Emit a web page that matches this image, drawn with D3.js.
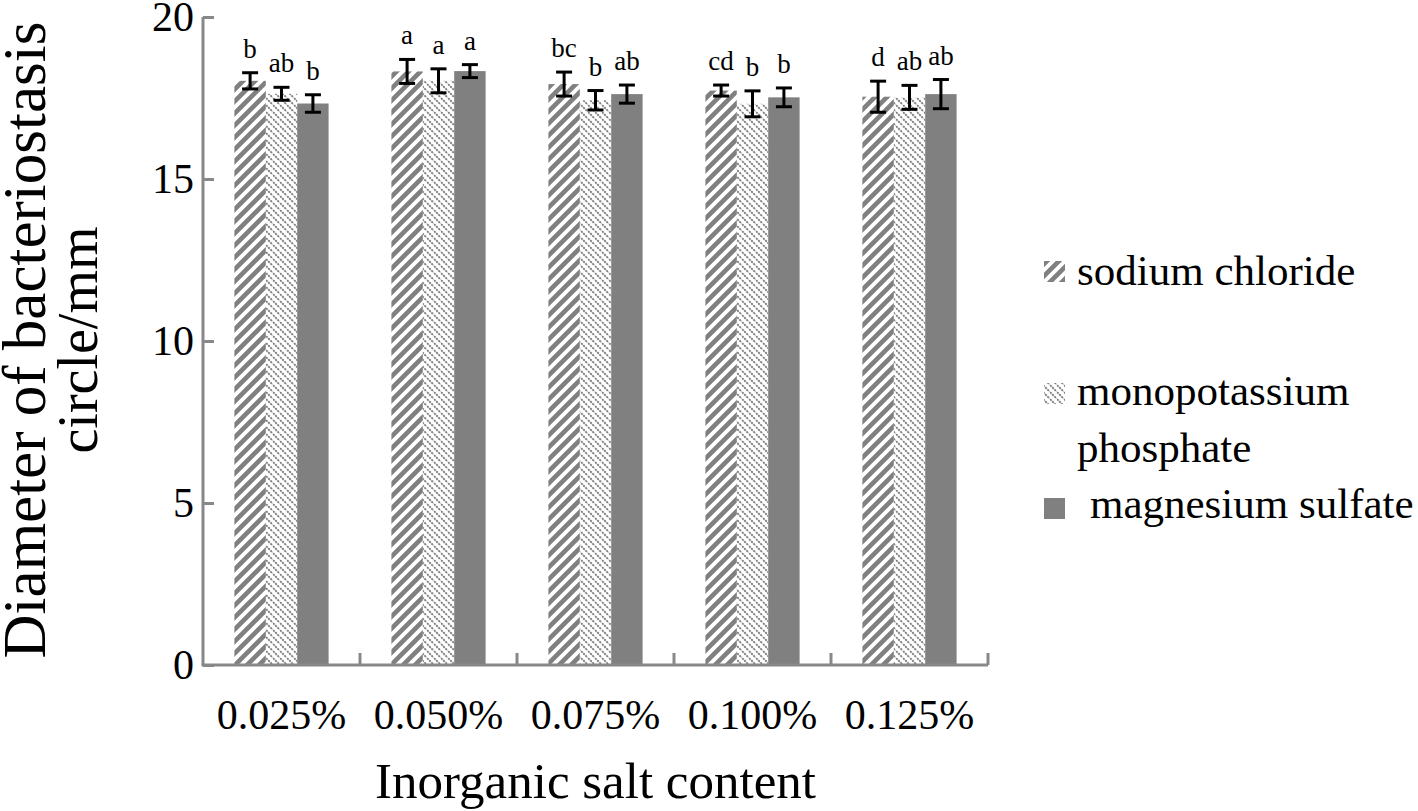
<!DOCTYPE html>
<html>
<head>
<meta charset="utf-8">
<script src="https://cdn.jsdelivr.net/npm/d3@7"></script>
<style>
  html, body { margin: 0; padding: 0; background: #fff; }
  svg { display: block; }
</style>
</head>
<body>
<svg id="chart" width="1418" height="811"></svg>
<script>
// ---- data ----
const categories = ["0.025%", "0.050%", "0.075%", "0.100%", "0.125%"];
const seriesNames = ["sodium chloride", "monopotassium phosphate", "magnesium sulfate"];
const sodiumChloride = [18.03, 18.32, 17.93, 17.73, 17.54];
const monopotassiumPhosphate = [17.63, 18.03, 17.43, 17.32, 17.52];
const magnesiumSulfate = [17.33, 18.33, 17.62, 17.52, 17.62];
const sodiumErr = [0.25, 0.37, 0.37, 0.17, 0.48];
const monoErr = [0.2, 0.37, 0.3, 0.4, 0.37];
const magErr = [0.27, 0.2, 0.28, 0.29, 0.45];
const sodiumLetters = ["b", "a", "bc", "cd", "d"];
const monoLetters = ["ab", "a", "b", "b", "ab"];
const magLetters = ["b", "a", "ab", "b", "ab"];
const yTicks = [0, 5, 10, 15, 20];

const values = [sodiumChloride, monopotassiumPhosphate, magnesiumSulfate];
const errs = [sodiumErr, monoErr, magErr];
const letters = [sodiumLetters, monoLetters, magLetters];

const SERIF = "'Liberation Serif', 'Times New Roman', serif";

function addText(parent, x, y, str, size, anchor) {
  return parent.append("text")
    .attr("x", x).attr("y", y)
    .attr("text-anchor", anchor || "start")
    .style("font-family", SERIF)
    .style("font-size", size + "px")
    .attr("fill", "#000")
    .text(str);
}

const svg = d3.select("#chart");
const defs = svg.append("defs");

// sodium chloride: wide "/" stripes
const p1 = defs.append("pattern").attr("id", "pSodium")
  .attr("patternUnits", "userSpaceOnUse").attr("width", 12).attr("height", 12);
p1.append("path").attr("d", "M-3,3 L3,-3 M0,12 L12,0 M9,15 L15,9")
  .attr("stroke", "#808080").attr("stroke-width", 4.6);

// monopotassium phosphate: thin "\" dotted stripes
const p2 = defs.append("pattern").attr("id", "pMono")
  .attr("patternUnits", "userSpaceOnUse").attr("width", 7).attr("height", 7);
p2.append("path").attr("d", "M-2,5 L2,9 M0,0 L7,7 M5,-2 L9,2")
  .attr("stroke", "#808080").attr("stroke-width", 1.9).attr("stroke-dasharray", "2.2,0.9");

const fills = ["url(#pSodium)", "url(#pMono)", "#808080"];

const xLeft = 203, xRight = 988, yBottom = 665, yTop = 17;

const x0 = d3.scaleBand().domain(categories).range([xLeft, xRight]).paddingInner(0).paddingOuter(0);
const x1 = d3.scaleBand().domain(seriesNames).range([0, x0.bandwidth()]).paddingInner(0).paddingOuter(1);
const y = d3.scaleLinear().domain([0, 20]).range([yBottom, yTop]);

const axisColor = "#888888";

// bars
const g = svg.append("g");
categories.forEach((c, i) => {
  seriesNames.forEach((s, j) => {
    const v = values[j][i];
    g.append("rect")
      .attr("x", x0(c) + x1(s))
      .attr("y", y(v))
      .attr("width", x1.bandwidth())
      .attr("height", y(0) - y(v))
      .attr("fill", fills[j]);
  });
});

// error bars + letters
categories.forEach((c, i) => {
  seriesNames.forEach((s, j) => {
    const v = values[j][i], e = errs[j][i];
    const cx = x0(c) + x1(s) + x1.bandwidth() / 2;
    const capW = 8;
    const eg = g.append("g").attr("stroke", "#000").attr("stroke-width", 3);
    eg.append("line").attr("x1", cx).attr("x2", cx).attr("y1", y(v + e)).attr("y2", y(v - e));
    eg.append("line").attr("x1", cx - capW).attr("x2", cx + capW).attr("y1", y(v + e)).attr("y2", y(v + e));
    eg.append("line").attr("x1", cx - capW).attr("x2", cx + capW).attr("y1", y(v - e)).attr("y2", y(v - e));
    addText(g, cx, y(v + e) - 15, letters[j][i], 27, "middle");
  });
});

// y axis (line + inward ticks via d3 axis, labels drawn as serif text)
const yAxis = d3.axisLeft(y).tickValues(yTicks).tickSize(-11).tickFormat("");
const yg = svg.append("g").attr("transform", `translate(${xLeft},0)`).call(yAxis);
yg.select(".domain").attr("stroke", axisColor).attr("stroke-width", 3).attr("d", `M0,${yTop}V${yBottom}`);
yg.selectAll(".tick line").attr("stroke", axisColor).attr("stroke-width", 3);
yg.selectAll(".tick text").remove();
yTicks.forEach(t => {
  addText(svg, xLeft - 9, y(t) + 14, d3.format("d")(t), 42, "end");
});

// x axis
const xg = svg.append("g").attr("transform", `translate(0,${yBottom})`);
xg.append("line").attr("x1", xLeft - 1.5).attr("x2", xRight).attr("y1", 0).attr("y2", 0)
  .attr("stroke", axisColor).attr("stroke-width", 3);
categories.forEach(c => {
  const xe = x0(c) + x0.bandwidth();
  xg.append("line").attr("x1", xe).attr("x2", xe).attr("y1", 0).attr("y2", -12)
    .attr("stroke", axisColor).attr("stroke-width", 3);
  addText(xg, x0(c) + x0.bandwidth() / 2, 64, c, 42, "middle");
});

// axis titles
addText(svg, (xLeft + xRight) / 2, 798, "Inorganic salt content", 51, "middle");

svg.append("text").attr("transform", "translate(45,340) rotate(-90)")
  .attr("text-anchor", "middle").style("font-family", SERIF).style("font-size", "61px")
  .text("Diameter of bacteriostasis");
svg.append("text").attr("transform", "translate(97,340) rotate(-90)")
  .attr("text-anchor", "middle").style("font-family", SERIF).style("font-size", "56px")
  .text("circle/mm");

// legend
const lg = svg.append("g");
const sw = 21;
const legendRows = [
  { sy: 261, fill: fills[0], lines: [{ t: "sodium chloride", x: 1077, y: 285 }] },
  { sy: 383, fill: fills[1], lines: [{ t: "monopotassium", x: 1077, y: 405 }, { t: "phosphate", x: 1077, y: 462 }] },
  { sy: 498, fill: fills[2], lines: [{ t: "magnesium sulfate", x: 1090, y: 518 }] }
];
legendRows.forEach(r => {
  lg.append("rect").attr("x", 1044).attr("y", r.sy).attr("width", sw).attr("height", sw).attr("fill", r.fill);
  r.lines.forEach(l => addText(lg, l.x, l.y, l.t, 43, "start"));
});
</script>
</body>
</html>
